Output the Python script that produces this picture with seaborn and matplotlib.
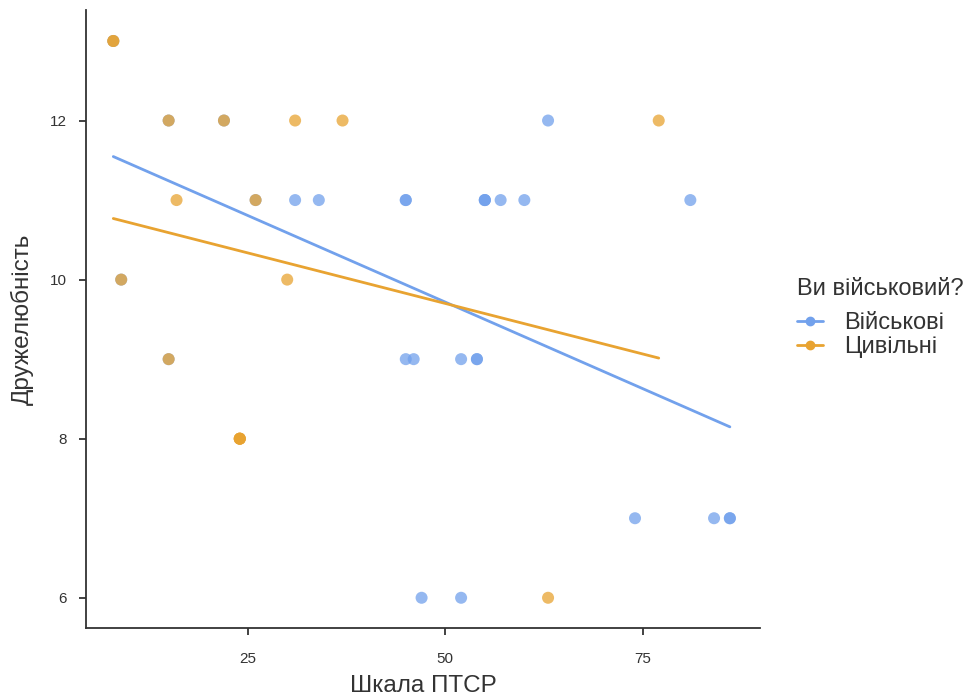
import matplotlib
matplotlib.use("Agg")
import matplotlib.pyplot as plt
import pandas as pd
import seaborn as sns
from matplotlib.lines import Line2D

# PTSD scale vs friendliness, by group
mil_x = [8, 15, 22, 26, 9, 15, 31, 34, 45, 45, 55, 55, 55, 57, 60, 81, 63,
         45, 46, 52, 54, 54, 74, 84, 86, 86, 47, 52]
mil_y = [13, 12, 12, 11, 10, 9, 11, 11, 11, 11, 11, 11, 11, 11, 11, 11, 12,
         9, 9, 9, 9, 9, 7, 7, 7, 7, 6, 6]
civ_x = [8, 8, 15, 22, 31, 37, 16, 26, 9, 30, 15, 24, 24, 24, 24, 63, 77]
civ_y = [13, 13, 12, 12, 12, 12, 11, 11, 10, 10, 9, 8, 8, 8, 8, 6, 12]

groups = ["Військові", "Цивільні"]
colors = {"Військові": "#72A1EC", "Цивільні": "#E8A331"}
x_ticks = [25, 50, 75]
y_ticks = [6, 8, 10, 12]

df = pd.DataFrame({
    "ptsd": mil_x + civ_x,
    "friendly": mil_y + civ_y,
    "group": [groups[0]] * len(mil_x) + [groups[1]] * len(civ_x),
})

sns.set_style("white")
plt.rcParams["font.family"] = ["Liberation Sans", "DejaVu Sans"]

fig = plt.figure(figsize=(9.71, 6.97), dpi=100)
ax = fig.add_axes([0.0886, 0.099, 0.694, 0.8867])

sns.scatterplot(data=df, x="ptsd", y="friendly", hue="group", palette=colors,
                s=75, linewidth=0, alpha=0.75, legend=False, ax=ax)

for g in groups:
    sub = df[df["group"] == g]
    sns.regplot(data=sub, x="ptsd", y="friendly", scatter=False, ci=None,
                color=colors[g], line_kws={"lw": 2}, ax=ax)

ax.set_xlim(4.55, 89.8)
ax.set_ylim(5.62, 13.39)
ax.set_xticks(x_ticks)
ax.set_yticks(y_ticks)
ax.tick_params(axis="both", which="major", direction="out", length=5, width=1.3,
               color="#333333", labelsize=11, labelcolor="#333333",
               bottom=True, left=True)
ax.tick_params(axis="x", pad=12)
ax.tick_params(axis="y", pad=9)

for side in ["top", "right"]:
    ax.spines[side].set_visible(False)
for side in ["left", "bottom"]:
    ax.spines[side].set_color("#333333")
    ax.spines[side].set_linewidth(1.3)

ax.set_xlabel("Шкала ПТСР", fontsize=17.5, color="#333333", labelpad=7)
ax.set_ylabel("Дружелюбність", fontsize=17.5, color="#333333", labelpad=11)

# legend: title as its own text, entries below it
fig.text(797 / 971, 1 - 289 / 697, "Ви військовий?", fontsize=17,
         color="#333333", ha="left", va="center")
handles = [Line2D([0], [0], color=colors[g], lw=2, marker="o", markersize=6)
           for g in groups]
fig.legend(handles, groups, loc="upper left",
           bbox_to_anchor=(797 / 971, 1 - 312 / 697), frameon=False,
           fontsize=17, handlelength=1.1, handletextpad=0.9,
           labelspacing=0.1, borderpad=0, borderaxespad=0,
           labelcolor="#333333")

fig.savefig("out.png", dpi=100)
